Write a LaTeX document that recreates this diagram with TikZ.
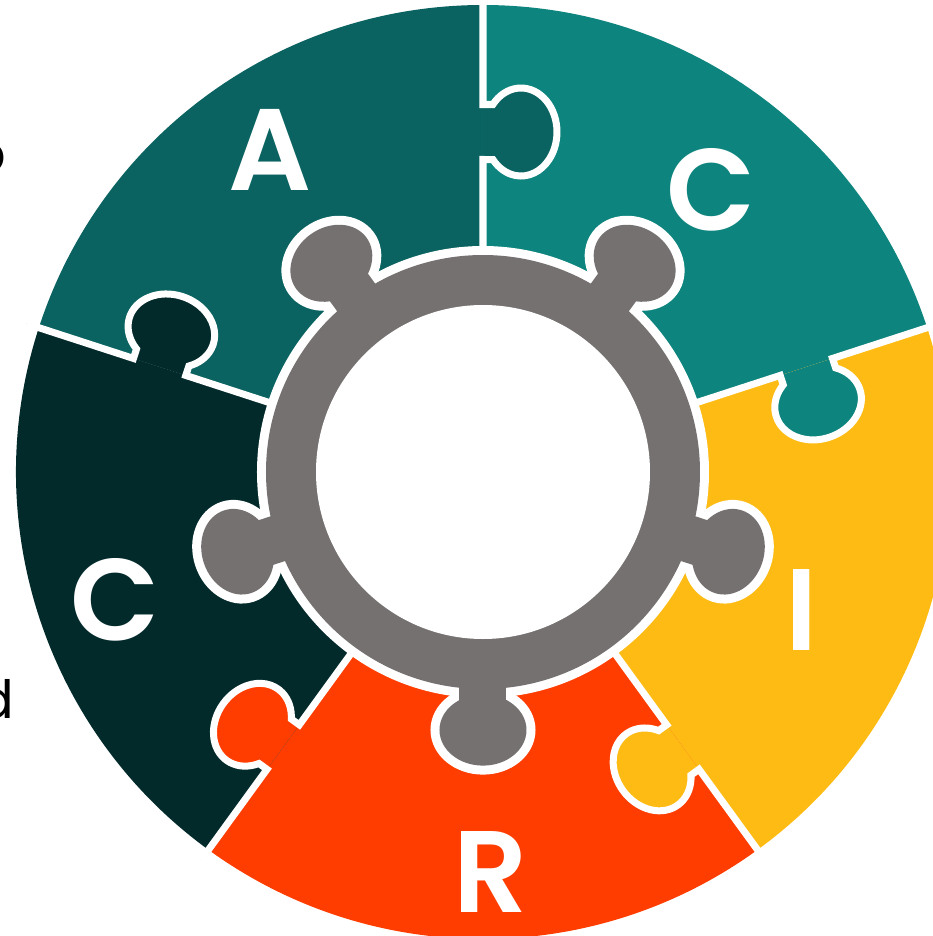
\documentclass[tikz,border=0pt]{standalone}
\usepackage{fontspec}
\setmainfont{Poppins}
\newfontfamily\letterfont{Poppins SemiBold}
\definecolor{clrA}{HTML}{0A6360}
\definecolor{clrCt}{HTML}{0D847E}
\definecolor{clrI}{HTML}{FDBB14}
\definecolor{clrR}{HTML}{FF3D00}
\definecolor{clrCl}{HTML}{032A2B}
\definecolor{hubgray}{HTML}{757170}

\begin{document}
\begin{tikzpicture}[x=0.01cm,y=0.01cm,
    seam/.style={draw=white, line width=0.07cm},
    hubrim/.style={draw=white, line width=0.18cm},
    letter/.style={text=white, font=\fontsize{33}{33}\selectfont\letterfont, inner sep=0pt},
    stray/.style={text=black, font=\fontsize{15}{18}\selectfont, inner sep=0pt, anchor=base east}]
  \useasboundingbox (-483,-464) rectangle (449,472);

  % pieces
  \foreach \from/\to/\clr in {90/162/clrA, 18/90/clrCt, -54/18/clrI, -126/-54/clrR, 162/234/clrCl}
    \fill[\clr] (0,0) -- (\from:467) arc[start angle=\from, end angle=\to, radius=467] -- cycle;

  % seams with the tab of the piece above
  \foreach \ang/\clr in {90/clrA, 18/clrCt, -54/clrI, -126/clrR, 162/clrCl}
    \filldraw[rotate=\ang, fill=\clr, seam] (480,0) -- (367.5,0) -- (367.5,-9.9)
      arc[start angle=51.3, end angle=-231.3, x radius=44, y radius=36] -- (312.5,0) -- (150,0);

  % hub
  \foreach \ang in {-90,-18,54,126,198} {
    \draw[rotate=\ang, hubrim] (200,-23.5) rectangle (258,23.5);
    \draw[rotate=\ang, hubrim] (258,0) ellipse[x radius=35.6, y radius=43.5];
  }
  \draw[hubrim] (0,0) circle[radius=217];
  \fill[hubgray] (0,0) circle[radius=217];
  \foreach \ang in {-90,-18,54,126,198} {
    \fill[rotate=\ang, hubgray] (200,-23.5) rectangle (258,23.5);
    \fill[rotate=\ang, hubgray] (258,0) ellipse[x radius=35.6, y radius=43.5];
  }
  \fill[white] (0,0) circle[radius=167];

  \node[letter] (A)  at (-213,322)  {A};
  \node[letter] (Ct) at (228,282)   {C};
  \node[letter] (I)  at (319,-138)  {I};
  \node[letter] (R)  at (8,-400)    {R};
  \node[letter] (Cl) at (-368,-128) {C};

  \node[stray] (p) at (-476,300)  {p};
  \node[stray] (d) at (-468,-246) {d};
\end{tikzpicture}
\end{document}
